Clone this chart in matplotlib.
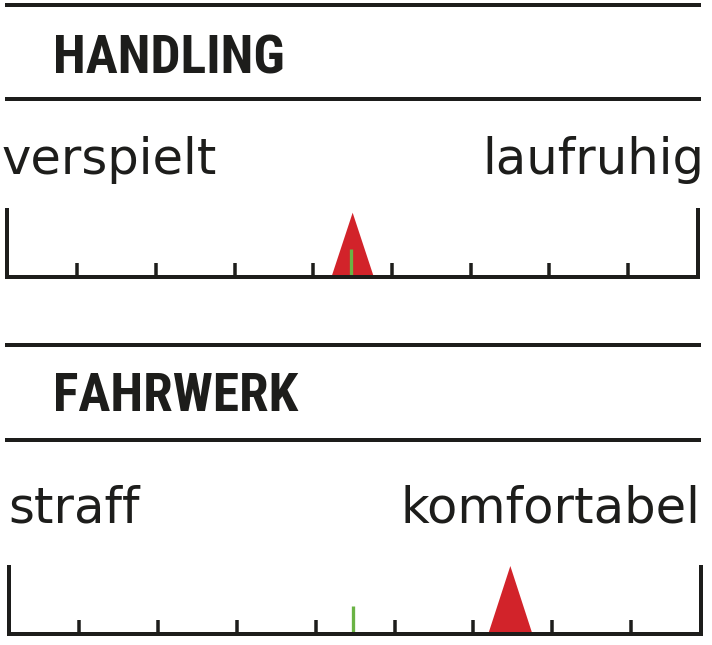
import matplotlib
matplotlib.use("Agg")
import matplotlib.pyplot as plt
from matplotlib import font_manager as fm
from matplotlib.patches import Polygon

# ---------------- data ----------------
sections = ["HANDLING", "FAHRWERK"]
left_labels = ["verspielt", "straff"]
right_labels = ["laufruhig", "komfortabel"]
marker_values = [4.50, 6.47]      # red triangle (rating)
reference_values = [4.475, 4.477]  # green reference tick
tick_values = [1, 2, 3, 4, 5, 6, 7, 8]
scale_min, scale_max = 0.11, 8.89

# ---------------- style ----------------
W, H = 712, 645
DPI = 100
BLACK = "#1d1d1b"
RED = "#d2232a"
GREEN = "#6ab344"


def pick(cands, **kw):
    for c in cands:
        try:
            fm.findfont(fm.FontProperties(family=c, **kw), fallback_to_default=False)
            return c
        except Exception:
            pass
    return "DejaVu Sans"


title_font = pick(["Liberation Sans Narrow", "Roboto Condensed", "DejaVu Sans"], weight="bold")
label_font = "DejaVu Sans"

fig = plt.figure(figsize=(W / DPI, H / DPI), dpi=DPI)
fig.patch.set_facecolor("white")


def fx(x):
    return x / W


def fy(y):
    return 1 - y / H


def px2pt(p):
    return p * 72.0 / DPI


# layout per section (pixel coordinates)
blocks = [
    dict(line1=4.7, line2=99.3, title_base=73.3, label_base=174.3,
         ax_top=200, ax_bot=290, baseline=277.3, t4=313.3, step=78.7,
         tri_hw=21.3, tri_h=64.6),
    dict(line1=345.0, line2=440.0, title_base=411.0, label_base=522.7,
         ax_top=555, ax_bot=645, baseline=634.3, t4=315.7, step=78.8,
         tri_hw=22.2, tri_h=68.3),
]

line_ax = fig.add_axes([0, 0, 1, 1])
line_ax.set_xlim(0, W)
line_ax.set_ylim(H, 0)
line_ax.axis("off")

for i, b in enumerate(blocks):
    # separator lines
    for yy in (b["line1"], b["line2"]):
        line_ax.plot([5, 701], [yy, yy], color=BLACK, lw=px2pt(4), solid_capstyle="butt")

    # title
    fig.text(fx(53), fy(b["title_base"]), sections[i], fontsize=38.5,
             family=title_font, weight="bold", color=BLACK, va="baseline", ha="left")

    # end labels
    lx = 1.5 if i == 0 else 8.5
    fig.text(fx(lx), fy(b["label_base"]), left_labels[i], fontsize=35.7,
             family=label_font, color=BLACK, va="baseline", ha="left")
    fig.text(fx(704 if i == 0 else 700), fy(b["label_base"]), right_labels[i], fontsize=35.7,
             family=label_font, color=BLACK, va="baseline", ha="right")

    # scale axes
    ax = fig.add_axes([0, 1 - b["ax_bot"] / H, 1, (b["ax_bot"] - b["ax_top"]) / H])
    x0 = 4 - b["t4"] / b["step"]
    ax.set_xlim(x0, x0 + W / b["step"])
    ax.set_ylim(-(b["ax_bot"] - b["baseline"]), b["baseline"] - b["ax_top"])
    ax.axis("off")
    ax.patch.set_alpha(0)

    # red triangle marker
    v = marker_values[i]
    hw = b["tri_hw"] / b["step"]
    tri = Polygon([[v - hw, 0], [v + hw, 0], [v, b["tri_h"]]], closed=True,
                  facecolor=RED, edgecolor="none", zorder=1)
    ax.add_patch(tri)

    # green reference tick
    ax.plot([reference_values[i]] * 2, [0, 28], color=GREEN, lw=px2pt(3.3),
            solid_capstyle="butt", zorder=2)

    # inner ticks
    ax.vlines(tick_values, 0, 14, color=BLACK, lw=px2pt(3.5), zorder=3)

    # frame: end bars + baseline
    ax.plot([scale_min, scale_min, scale_max, scale_max], [69, 0, 0, 69],
            color=BLACK, lw=px2pt(4), solid_joinstyle="miter",
            solid_capstyle="butt", zorder=4)

fig.savefig("out.png", dpi=DPI, facecolor="white")
